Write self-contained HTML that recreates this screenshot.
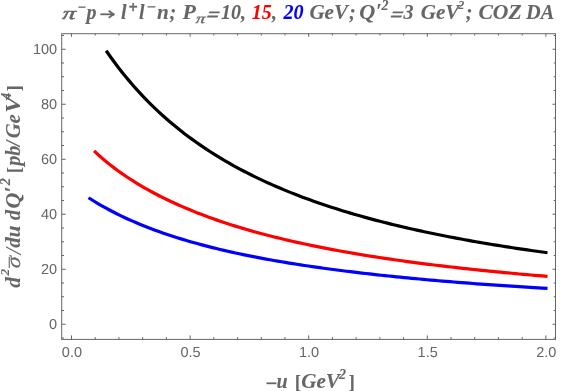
<!DOCTYPE html>
<html><head><meta charset="utf-8"><title>plot</title>
<style>html,body{margin:0;padding:0;background:#fff;}body{width:581px;height:391px;overflow:hidden;position:relative;font-family:"Liberation Sans",sans-serif;}</style>
</head><body>
<svg width="581" height="391" viewBox="0 0 581 391" style="position:absolute;left:0;top:0;will-change:transform">
<rect x="0" y="0" width="581" height="391" fill="#fff"/>
<path d="M107.08,52.03 L110.77,57.25 L114.46,62.30 L118.14,67.18 L121.83,71.90 L125.52,76.48 L129.21,80.90 L132.89,85.19 L136.58,89.35 L140.27,93.38 L143.96,97.29 L147.64,101.09 L151.33,104.77 L155.02,108.35 L158.71,111.83 L162.39,115.21 L166.08,118.49 L169.77,121.69 L173.46,124.80 L177.14,127.82 L180.83,130.77 L184.52,133.64 L188.21,136.43 L191.89,139.15 L195.58,141.80 L199.27,144.39 L202.96,146.91 L206.64,149.38 L210.33,151.78 L214.02,154.12 L217.71,156.41 L221.39,158.64 L225.08,160.83 L228.77,162.96 L232.46,165.04 L236.14,167.08 L239.83,169.07 L243.52,171.02 L247.21,172.92 L250.89,174.78 L254.58,176.60 L258.27,178.39 L261.96,180.13 L265.65,181.84 L269.33,183.52 L273.02,185.16 L276.71,186.76 L280.40,188.34 L284.08,189.88 L287.77,191.39 L291.46,192.87 L295.15,194.32 L298.83,195.75 L302.52,197.15 L306.21,198.52 L309.90,199.86 L313.58,201.18 L317.27,202.48 L320.96,203.75 L324.65,204.99 L328.33,206.22 L332.02,207.42 L335.71,208.60 L339.40,209.77 L343.08,210.91 L346.77,212.03 L350.46,213.13 L354.15,214.21 L357.83,215.27 L361.52,216.32 L365.21,217.35 L368.90,218.36 L372.58,219.35 L376.27,220.33 L379.96,221.29 L383.65,222.24 L387.33,223.17 L391.02,224.08 L394.71,224.98 L398.40,225.87 L402.09,226.75 L405.77,227.60 L409.46,228.45 L413.15,229.28 L416.84,230.11 L420.52,230.91 L424.21,231.71 L427.90,232.49 L431.59,233.27 L435.27,234.03 L438.96,234.78 L442.65,235.52 L446.34,236.24 L450.02,236.96 L453.71,237.67 L457.40,238.37 L461.09,239.05 L464.77,239.73 L468.46,240.40 L472.15,241.06 L475.84,241.71 L479.52,242.35 L483.21,242.98 L486.90,243.61 L490.59,244.22 L494.27,244.83 L497.96,245.43 L501.65,246.02 L505.34,246.60 L509.02,247.18 L512.71,247.75 L516.40,248.31 L520.09,248.86 L523.77,249.41 L527.46,249.95 L531.15,250.48 L534.84,251.01 L538.52,251.53 L542.21,252.04 L545.90,252.55" fill="none" stroke="#000000" stroke-width="3.2" stroke-linecap="square" stroke-linejoin="round"/>
<path d="M95.22,152.00 L99.01,155.46 L102.79,158.76 L106.58,161.92 L110.37,164.95 L114.16,167.86 L117.94,170.67 L121.73,173.37 L125.52,175.97 L129.31,178.49 L133.09,180.92 L136.88,183.27 L140.67,185.55 L144.45,187.76 L148.24,189.90 L152.03,191.98 L155.82,194.00 L159.60,195.96 L163.39,197.86 L167.18,199.72 L170.96,201.52 L174.75,203.27 L178.54,204.98 L182.33,206.64 L186.11,208.27 L189.90,209.85 L193.69,211.39 L197.48,212.89 L201.26,214.36 L205.05,215.79 L208.84,217.18 L212.62,218.55 L216.41,219.88 L220.20,221.18 L223.99,222.45 L227.77,223.69 L231.56,224.91 L235.35,226.10 L239.13,227.26 L242.92,228.40 L246.71,229.51 L250.50,230.60 L254.28,231.67 L258.07,232.71 L261.86,233.74 L265.65,234.74 L269.43,235.72 L273.22,236.68 L277.01,237.63 L280.79,238.55 L284.58,239.46 L288.37,240.35 L292.16,241.22 L295.94,242.07 L299.73,242.91 L303.52,243.74 L307.30,244.55 L311.09,245.34 L314.88,246.12 L318.67,246.88 L322.45,247.64 L326.24,248.37 L330.03,249.10 L333.82,249.81 L337.60,250.51 L341.39,251.20 L345.18,251.88 L348.96,252.54 L352.75,253.20 L356.54,253.84 L360.33,254.47 L364.11,255.09 L367.90,255.71 L371.69,256.31 L375.47,256.90 L379.26,257.48 L383.05,258.06 L386.84,258.62 L390.62,259.18 L394.41,259.72 L398.20,260.26 L401.99,260.79 L405.77,261.32 L409.56,261.83 L413.35,262.34 L417.13,262.84 L420.92,263.33 L424.71,263.81 L428.50,264.29 L432.28,264.76 L436.07,265.23 L439.86,265.68 L443.64,266.14 L447.43,266.58 L451.22,267.02 L455.01,267.45 L458.79,267.88 L462.58,268.30 L466.37,268.71 L470.16,269.12 L473.94,269.52 L477.73,269.92 L481.52,270.32 L485.30,270.70 L489.09,271.09 L492.88,271.46 L496.67,271.84 L500.45,272.20 L504.24,272.57 L508.03,272.93 L511.81,273.28 L515.60,273.63 L519.39,273.97 L523.18,274.32 L526.96,274.65 L530.75,274.98 L534.54,275.31 L538.33,275.64 L542.11,275.96 L545.90,276.27" fill="none" stroke="#ff0000" stroke-width="3.2" stroke-linecap="square" stroke-linejoin="round"/>
<path d="M89.88,198.59 L93.72,200.99 L97.55,203.30 L101.38,205.53 L105.21,207.68 L109.04,209.77 L112.88,211.78 L116.71,213.72 L120.54,215.61 L124.37,217.43 L128.20,219.20 L132.04,220.91 L135.87,222.57 L139.70,224.18 L143.53,225.74 L147.36,227.26 L151.20,228.73 L155.03,230.16 L158.86,231.55 L162.69,232.90 L166.52,234.22 L170.36,235.50 L174.19,236.75 L178.02,237.96 L181.85,239.14 L185.68,240.29 L189.52,241.42 L193.35,242.51 L197.18,243.58 L201.01,244.62 L204.85,245.64 L208.68,246.63 L212.51,247.60 L216.34,248.54 L220.17,249.47 L224.01,250.37 L227.84,251.25 L231.67,252.11 L235.50,252.96 L239.33,253.78 L243.17,254.59 L247.00,255.38 L250.83,256.15 L254.66,256.91 L258.49,257.65 L262.33,258.38 L266.16,259.09 L269.99,259.78 L273.82,260.47 L277.65,261.13 L281.49,261.79 L285.32,262.43 L289.15,263.06 L292.98,263.68 L296.82,264.29 L300.65,264.88 L304.48,265.47 L308.31,266.04 L312.14,266.60 L315.98,267.16 L319.81,267.70 L323.64,268.23 L327.47,268.76 L331.30,269.27 L335.14,269.78 L338.97,270.27 L342.80,270.76 L346.63,271.24 L350.46,271.71 L354.30,272.18 L358.13,272.63 L361.96,273.08 L365.79,273.52 L369.62,273.96 L373.46,274.38 L377.29,274.81 L381.12,275.22 L384.95,275.63 L388.78,276.03 L392.62,276.42 L396.45,276.81 L400.28,277.19 L404.11,277.57 L407.95,277.94 L411.78,278.31 L415.61,278.67 L419.44,279.02 L423.27,279.37 L427.11,279.72 L430.94,280.06 L434.77,280.39 L438.60,280.72 L442.43,281.05 L446.27,281.37 L450.10,281.68 L453.93,281.99 L457.76,282.30 L461.59,282.61 L465.43,282.90 L469.26,283.20 L473.09,283.49 L476.92,283.78 L480.75,284.06 L484.59,284.34 L488.42,284.62 L492.25,284.89 L496.08,285.16 L499.92,285.43 L503.75,285.69 L507.58,285.95 L511.41,286.20 L515.24,286.45 L519.08,286.70 L522.91,286.95 L526.74,287.19 L530.57,287.43 L534.40,287.67 L538.24,287.90 L542.07,288.13 L545.90,288.36" fill="none" stroke="#0000ff" stroke-width="3.2" stroke-linecap="square" stroke-linejoin="round"/>
<g stroke="#666666" stroke-width="1" fill="none">
<rect x="61.7" y="33.7" width="493.8" height="305.7"/>
<path d="M71.50,339.4v-4.0 M71.50,33.7v3.0 M95.22,339.4v-2.3 M95.22,33.7v1.8 M118.94,339.4v-2.3 M118.94,33.7v1.8 M142.66,339.4v-2.3 M142.66,33.7v1.8 M166.38,339.4v-2.3 M166.38,33.7v1.8 M190.10,339.4v-4.0 M190.10,33.7v3.0 M213.82,339.4v-2.3 M213.82,33.7v1.8 M237.54,339.4v-2.3 M237.54,33.7v1.8 M261.26,339.4v-2.3 M261.26,33.7v1.8 M284.98,339.4v-2.3 M284.98,33.7v1.8 M308.70,339.4v-4.0 M308.70,33.7v3.0 M332.42,339.4v-2.3 M332.42,33.7v1.8 M356.14,339.4v-2.3 M356.14,33.7v1.8 M379.86,339.4v-2.3 M379.86,33.7v1.8 M403.58,339.4v-2.3 M403.58,33.7v1.8 M427.30,339.4v-4.0 M427.30,33.7v3.0 M451.02,339.4v-2.3 M451.02,33.7v1.8 M474.74,339.4v-2.3 M474.74,33.7v1.8 M498.46,339.4v-2.3 M498.46,33.7v1.8 M522.18,339.4v-2.3 M522.18,33.7v1.8 M545.90,339.4v-4.0 M545.90,33.7v3.0 M61.7,338.00h2.3 M555.5,338.00h-1.8 M61.7,324.25h4.0 M555.5,324.25h-3.0 M61.7,310.50h2.3 M555.5,310.50h-1.8 M61.7,296.75h2.3 M555.5,296.75h-1.8 M61.7,283.00h2.3 M555.5,283.00h-1.8 M61.7,269.25h4.0 M555.5,269.25h-3.0 M61.7,255.50h2.3 M555.5,255.50h-1.8 M61.7,241.75h2.3 M555.5,241.75h-1.8 M61.7,228.00h2.3 M555.5,228.00h-1.8 M61.7,214.25h4.0 M555.5,214.25h-3.0 M61.7,200.50h2.3 M555.5,200.50h-1.8 M61.7,186.75h2.3 M555.5,186.75h-1.8 M61.7,173.00h2.3 M555.5,173.00h-1.8 M61.7,159.25h4.0 M555.5,159.25h-3.0 M61.7,145.50h2.3 M555.5,145.50h-1.8 M61.7,131.75h2.3 M555.5,131.75h-1.8 M61.7,118.00h2.3 M555.5,118.00h-1.8 M61.7,104.25h4.0 M555.5,104.25h-3.0 M61.7,90.50h2.3 M555.5,90.50h-1.8 M61.7,76.75h2.3 M555.5,76.75h-1.8 M61.7,63.00h2.3 M555.5,63.00h-1.8 M61.7,49.25h4.0 M555.5,49.25h-3.0 M61.7,35.50h2.3 M555.5,35.50h-1.8"/>
</g>
<g font-family="Liberation Sans, sans-serif" font-size="14.5" fill="#666666" text-rendering="geometricPrecision">
<text x="57.2" y="329.45" text-anchor="end">0</text>
<text x="57.2" y="274.45" text-anchor="end">20</text>
<text x="57.2" y="219.45" text-anchor="end">40</text>
<text x="57.2" y="164.45" text-anchor="end">60</text>
<text x="57.2" y="109.45" text-anchor="end">80</text>
<text x="57.2" y="54.45" text-anchor="end">100</text>
<text x="71.90" y="357.0" text-anchor="middle">0.0</text>
<text x="190.50" y="357.0" text-anchor="middle">0.5</text>
<text x="309.10" y="357.0" text-anchor="middle">1.0</text>
<text x="427.70" y="357.0" text-anchor="middle">1.5</text>
<text x="546.30" y="357.0" text-anchor="middle">2.0</text>
</g>
<g font-family="Liberation Serif, serif" font-weight="bold" font-style="italic" font-size="20" fill="#666666" stroke="#666666" stroke-width="0.08">
<g transform="translate(62.0,18.5) skewX(-8)"><text x="0" y="0" textLength="13.2" lengthAdjust="spacingAndGlyphs" font-size="17.5" font-weight="normal" stroke-width="0.55">π</text></g>
<rect x="78.4" y="6.5" width="7.1" height="1.3" stroke="none"/>
<text x="86.4" y="18.5" >p</text>
<path d="M100.4,14.3H113.2" fill="none" stroke="#666666" stroke-width="1.8"/><path d="M108.80000000000001,10.700000000000001C110.60000000000001,12.8 112.4,13.8 114.4,14.3C112.4,14.8 110.60000000000001,15.8 108.80000000000001,17.900000000000002" fill="none" stroke="#666666" stroke-width="1.8" stroke-linejoin="miter"/>
<text x="121.1" y="18.5" >l</text>
<text x="128.6" y="12.7" font-size="16" stroke-width="0.45">+</text>
<text x="138.9" y="18.5" >l</text>
<rect x="147.6" y="6.2" width="7.8" height="1.3" stroke="none"/>
<text x="156.9" y="18.5" textLength="11.8" lengthAdjust="spacingAndGlyphs" >n</text>
<text x="169.4" y="18.5" >;</text>
<text x="182.5" y="18.5" textLength="13.4" lengthAdjust="spacingAndGlyphs" >P</text>
<g transform="translate(195.4,22.8) skewX(-8)"><text x="0" y="0" textLength="9.4" lengthAdjust="spacingAndGlyphs" font-size="13.5" font-weight="normal" stroke-width="0.35">π</text></g>
<path d="M209.44,11.40h10.6l-0.76,1.8h-10.6zM207.68,15.60h10.6l-0.76,1.8h-10.6z" stroke="none"/>
<text x="220.9" y="18.5" >10</text>
<text x="241.0" y="18.5" >,</text>
<text x="251.7" y="18.5" fill="#ff0000" stroke="#ff0000" >15</text>
<text x="272.1" y="18.5" >,</text>
<text x="283.5" y="18.5" fill="#0000ff" stroke="#0000ff" >20</text>
<text x="309.4" y="18.5" textLength="38.6" lengthAdjust="spacingAndGlyphs" >GeV</text>
<text x="349.1" y="18.5" >;</text>
<text x="359.3" y="18.5" textLength="16.0" lengthAdjust="spacingAndGlyphs" >Q</text>
<text x="375.9" y="17.5" >′</text>
<text x="381.4" y="10.0" font-size="14" >2</text>
<path d="M393.04,11.40h10.6l-0.76,1.8h-10.6zM391.28,15.60h10.6l-0.76,1.8h-10.6z" stroke="none"/>
<text x="403.6" y="18.5" >3</text>
<text x="420.7" y="18.5" textLength="38.6" lengthAdjust="spacingAndGlyphs" >GeV</text>
<text x="458.3" y="9.4" textLength="6.0" lengthAdjust="spacingAndGlyphs" font-size="13" >2</text>
<text x="465.8" y="18.5" >;</text>
<text x="478.4" y="18.5" textLength="43.2" lengthAdjust="spacingAndGlyphs" >COZ</text>
<text x="526.0" y="18.5" textLength="28.2" lengthAdjust="spacingAndGlyphs" >DA</text>
<rect x="266.5" y="382.4" width="9.9" height="1.8" stroke="none"/>
<text x="276.6" y="388.0" >u</text>
<text x="294.7" y="387.7" font-size="19.4" font-style="normal" stroke="none">[</text>
<text x="301.3" y="388.0" textLength="38.6" lengthAdjust="spacingAndGlyphs" >GeV</text>
<text x="338.9" y="379.1" font-size="14" >2</text>
<text x="348.5" y="387.7" font-size="19.4" font-style="normal" stroke="none">]</text>
<g transform="translate(20.1,0) rotate(-90)">
<text x="-287.7" y="0" textLength="10.6" lengthAdjust="spacingAndGlyphs" >d</text>
<text x="-275.6" y="-11.6" textLength="6.6" lengthAdjust="spacingAndGlyphs" font-size="12.5" >2</text>
<g transform="translate(-268.8,0) skewX(-8)"><text x="0" y="0" textLength="11.6" lengthAdjust="spacingAndGlyphs" font-weight="normal" stroke-width="0.2">σ</text></g>
<rect x="-268.0" y="-11.4" width="11.2" height="1.1" stroke="none"/>
<text x="-254.6" y="0.6" font-size="23" font-weight="normal" stroke="none">/</text>
<text x="-247.7" y="0" textLength="22.0" lengthAdjust="spacingAndGlyphs" >du</text>
<text x="-220.1" y="0" >d</text>
<text x="-208.4" y="0" textLength="15.9" lengthAdjust="spacingAndGlyphs" >Q</text>
<text x="-192.3" y="-1.0" >′</text>
<text x="-185.3" y="-10.6" font-size="14" >2</text>
<text x="-173.2" y="0" font-size="19.2" font-style="normal" stroke="none">[</text>
<text x="-165.8" y="0" >pb</text>
<text x="-146.3" y="0" >/</text>
<text x="-138.2" y="0" textLength="14.9" lengthAdjust="spacingAndGlyphs" >G</text>
<text x="-123.5" y="0" textLength="9.1" lengthAdjust="spacingAndGlyphs" >e</text>
<text x="-112.8" y="0" textLength="15.8" lengthAdjust="spacingAndGlyphs" >V</text>
<text x="-99.8" y="-9.0" font-size="14" >4</text>
<text x="-91.4" y="0" font-size="19.2" font-style="normal" stroke="none">]</text>
</g>
</g>
</svg>
</body></html>
